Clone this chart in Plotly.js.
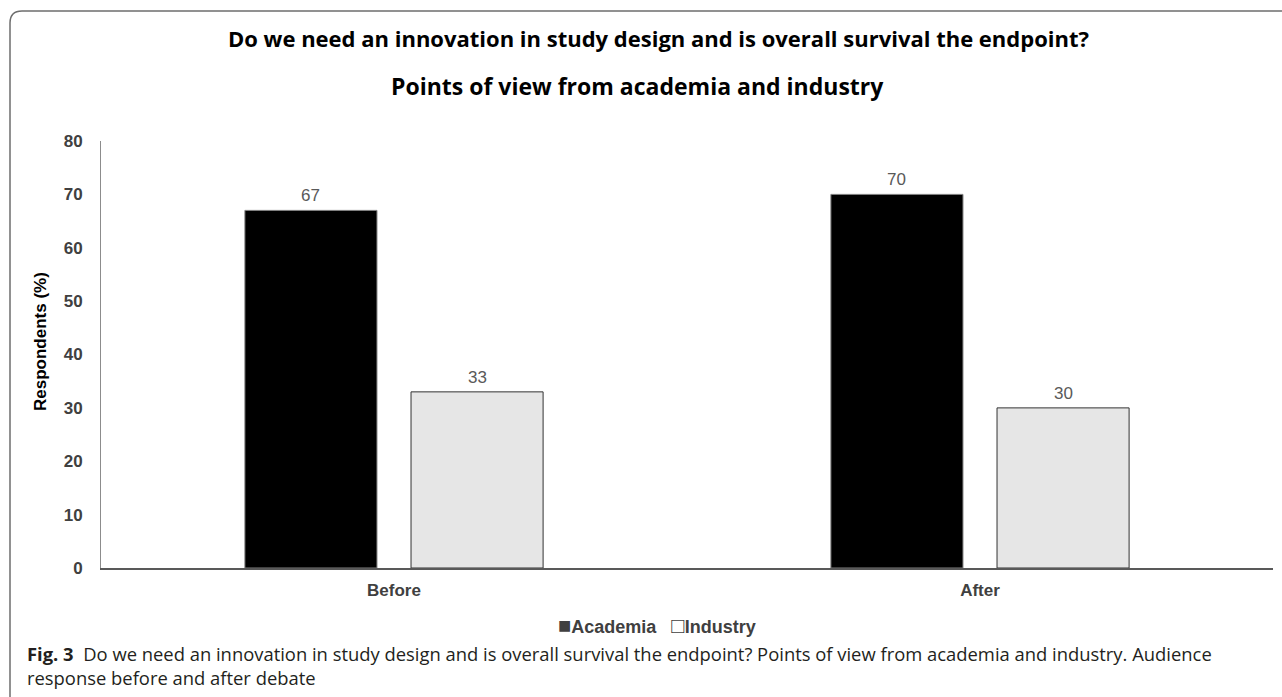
<!DOCTYPE html>
<html>
<head>
<meta charset="utf-8">
<script src="https://cdn.plot.ly/plotly-3.0.1.min.js"></script>
<style>
  html, body { margin: 0; padding: 0; background: #ffffff; }
  #chart { width: 1282px; height: 697px; }
</style>
</head>
<body>
<div id="chart"></div>
<script>
// ---- data ----
const categories = ["Before", "After"];
const seriesNames = ["Academia", "Industry"];
const academia = [67, 70];
const industry = [33, 30];
const yTicks = [0, 10, 20, 30, 40, 50, 60, 70, 80];

const titleLine1 = "Do we need an innovation in study design and is overall survival the endpoint?";
const titleLine2 = "Points of view from academia and industry";
const yTitle = "Respondents (%)";
const captionLine1 = "<b>Fig. 3</b>\u00a0\u00a0Do we need an innovation in study design and is overall survival the endpoint? Points of view from academia and industry. Audience";
const captionLine2 = "response before and after debate";

// ---- layout geometry (pixels) ----
const W = 1282, H = 697;
const M = { l: 101, r: 9, t: 141, b: 129 };
const PW = W - M.l - M.r, PH = H - M.t - M.b;
const px = X => (X - M.l) / PW;           // pixel -> paper x
const py = Y => (H - M.b - Y) / PH;       // pixel -> paper y

const traces = [
  {
    type: "bar", name: seriesNames[0], x: categories, y: academia,
    marker: { color: "#000000", line: { color: "#808080", width: 1 } },
    hoverinfo: "x+y+name"
  },
  {
    type: "bar", name: seriesNames[1], x: categories, y: industry,
    marker: { color: "#e6e6e6", line: { color: "#333333", width: 1 } },
    hoverinfo: "x+y+name"
  }
];

// value labels above bars
const bargap = 0.433, bargroupgap = 0.205;
const slot = PW / categories.length * (1 - bargap) / 2;
const annotations = [];
[academia, industry].forEach((vals, si) => {
  vals.forEach((v, ci) => {
    annotations.push({
      x: categories[ci], y: v, xref: "x", yref: "y",
      xshift: (si === 0 ? -1 : 1) * slot / 2,
      yshift: 3, yanchor: "bottom", xanchor: "center",
      text: String(v), showarrow: false,
      font: { family: "Liberation Sans, Arial, sans-serif", size: 17, color: "#595959" }
    });
  });
});

// titles
annotations.push({
  xref: "paper", yref: "paper", x: px(658), y: py(38), xanchor: "center", yanchor: "middle",
  text: "<b>" + titleLine1 + "</b>", showarrow: false,
  font: { family: "Open Sans, sans-serif", size: 22, color: "#000000" }
});
annotations.push({
  xref: "paper", yref: "paper", x: px(637), y: py(86), xanchor: "center", yanchor: "middle",
  text: "<b>" + titleLine2 + "</b>", showarrow: false,
  font: { family: "Open Sans, sans-serif", size: 23, color: "#000000" }
});
// y axis title
annotations.push({
  xref: "paper", yref: "paper", x: px(40), y: py(342), xanchor: "center", yanchor: "middle",
  textangle: -90, text: "<b>" + yTitle + "</b>", showarrow: false,
  font: { family: "Liberation Sans, Arial, sans-serif", size: 17, color: "#000000" }
});
// legend (text with swatches)
annotations.push({
  xref: "paper", yref: "paper", x: px(657), y: py(625), xanchor: "center", yanchor: "middle",
  text: "<span style=\"font-size:22px\">\u25A0</span><b>" + seriesNames[0] + "</b>\u00a0\u00a0\u00a0<span style=\"font-size:22px\">\u25A1</span><b>" + seriesNames[1] + "</b>",
  showarrow: false,
  font: { family: "Liberation Sans, Arial, sans-serif", size: 18, color: "#404040" }
});
// caption
annotations.push({
  xref: "paper", yref: "paper", x: px(25), y: py(653), xanchor: "left", yanchor: "middle",
  align: "left", text: captionLine1, showarrow: false,
  font: { family: "Open Sans, sans-serif", size: 18.4, color: "#231f20" }
});
annotations.push({
  xref: "paper", yref: "paper", x: px(25), y: py(677), xanchor: "left", yanchor: "middle",
  align: "left", text: captionLine2, showarrow: false,
  font: { family: "Open Sans, sans-serif", size: 18.4, color: "#231f20" }
});

// figure frame (rounded top-left corner, open right/bottom)
const fx = px(10), fy = py(11), r1x = px(22), r1y = py(23);
const framePath = `M ${fx},${py(705)} L ${fx},${r1y} Q ${fx},${fy} ${r1x},${fy} L ${px(1295)},${fy}`;

const layout = {
  width: W, height: H,
  margin: M,
  paper_bgcolor: "#ffffff", plot_bgcolor: "#ffffff",
  barmode: "group", bargap: bargap, bargroupgap: bargroupgap,
  showlegend: false,
  xaxis: {
    type: "category", showline: true, linecolor: "#595959", linewidth: 1.5,
    showgrid: false, zeroline: false, ticks: "",
    tickfont: { family: "Liberation Sans, Arial, sans-serif", size: 17, color: "#404040", weight: "bold" },
    ticklabelstandoff: 6
  },
  yaxis: {
    range: [0, 80], tickvals: yTicks, showline: true, linecolor: "#8c8c8c", linewidth: 1,
    showgrid: false, zeroline: false, ticks: "",
    tickfont: { family: "Liberation Sans, Arial, sans-serif", size: 17, color: "#404040", weight: "bold" },
    ticklabelstandoff: 14
  },
  annotations: annotations,
  shapes: [{
    type: "path", xref: "paper", yref: "paper", path: framePath,
    line: { color: "#6e6e6e", width: 1.5 }, fillcolor: "rgba(0,0,0,0)", layer: "above"
  }]
};

Plotly.newPlot("chart", traces, layout, { displayModeBar: false, staticPlot: true });
</script>
</body>
</html>
